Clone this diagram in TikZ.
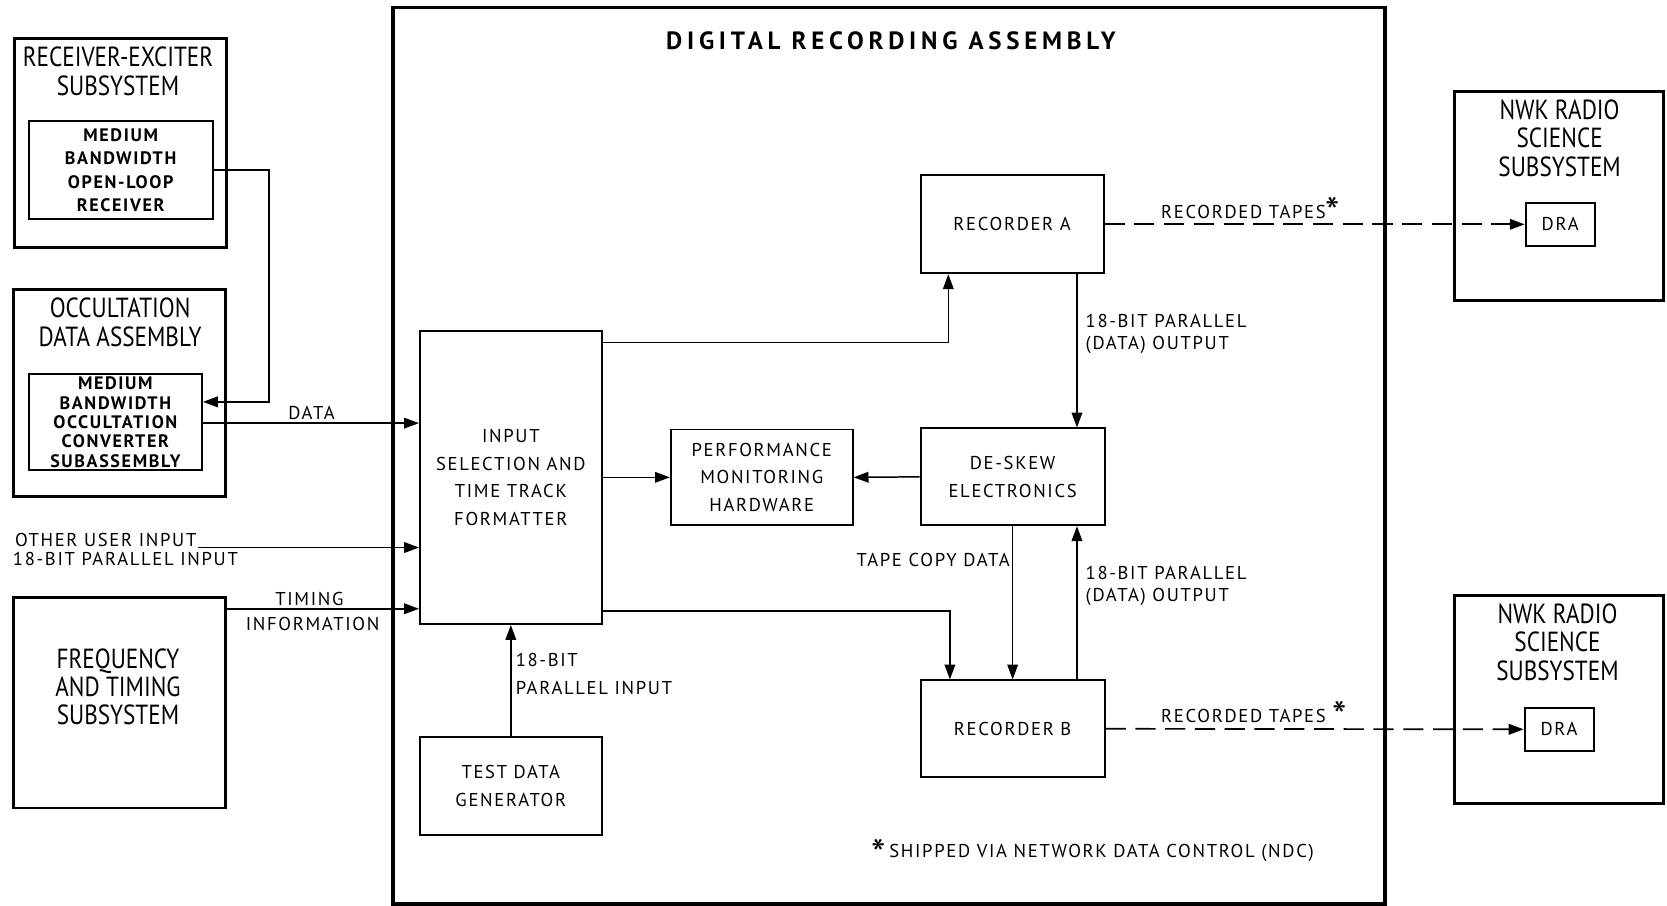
\documentclass[tikz,border=0pt]{standalone}
\usepackage{fontspec}
\setmainfont{PT Sans}
\newfontfamily\tallfont[FakeStretch=0.84]{PT Sans}
\newfontfamily\lblfont[LetterSpace=9]{PT Sans}
\newfontfamily\headfont[LetterSpace=19]{PT Sans}
\newcommand*{\footstar}{\raisebox{-7pt}{\scalebox{1.6}{\fontsize{24}{24}\selectfont *}}}
\usetikzlibrary{arrows.meta}
\begin{document}
\begin{tikzpicture}[x=1pt,y=-1pt,
  outerbox/.style={draw, line width=2.8pt, inner sep=0pt},
  heavybox/.style={draw, line width=3.6pt, inner sep=0pt},
  blockbox/.style={draw, line width=1.8pt, inner sep=0pt, align=center,
    font=\lblfont\fontsize{17.5}{26}\selectfont},
  innerbox/.style={draw, line width=1.8pt, inner sep=0pt, align=center,
    font=\lblfont\bfseries\fontsize{17}{22}\selectfont},
  titletxt/.style={align=center, inner sep=0pt, font=\tallfont\fontsize{26}{27}\selectfont},
  lbl/.style={inner sep=0pt, align=left, font=\lblfont\fontsize{17.5}{21}\selectfont},
  conn/.style={line width=1.4pt, -{Triangle[length=14pt,width=10pt]}},
  tape/.style={line width=1.6pt, dash pattern=on 19pt off 9pt, -{Triangle[length=14pt,width=10pt]}}
]
\useasboundingbox (0,0) rectangle (1568,852);

% digital recording assembly frame
\node[heavybox, minimum width=933pt, minimum height=843pt] (dra) at (836.5,428.5) {};
\node[inner sep=0pt, font=\headfont\bfseries\fontsize{23.5}{23.5}\selectfont] (dratitle) at (838,38) {DIGITAL RECORDING ASSEMBLY};

% receiver-exciter subsystem
\node[outerbox, minimum width=199pt, minimum height=197pt] (rex) at (113.5,134.5) {};
\node[titletxt] (rextitle) at (111,67) {RECEIVER-EXCITER\\SUBSYSTEM};
\node[innerbox, minimum width=173pt, minimum height=92pt] (mbolr) at (113.5,160)
  {MEDIUM\\BANDWIDTH\\OPEN-LOOP\\RECEIVER};

% occultation data assembly
\node[outerbox, minimum width=199pt, minimum height=195pt] (oda) at (112.5,369.5) {};
\node[titletxt] (odatitle) at (113,303) {OCCULTATION\\DATA ASSEMBLY};
\node[innerbox, minimum width=163pt, minimum height=90pt, font=\lblfont\bfseries\fontsize{17}{18.2}\selectfont]
  (mboccs) at (108.5,397) {MEDIUM\\BANDWIDTH\\OCCULTATION\\CONVERTER\\SUBASSEMBLY};

% frequency and timing subsystem
\node[outerbox, minimum width=199pt, minimum height=198pt] (fts) at (112.5,661) {};
\node[titletxt, font=\tallfont\fontsize{26}{26.5}\selectfont] (ftstitle) at (111,646) {FREQUENCY\\AND TIMING\\SUBSYSTEM};

% blocks inside the assembly
\node[blockbox, minimum width=171pt, minimum height=276pt] (isf) at (480.5,449)
  {INPUT\\SELECTION AND\\TIME TRACK\\FORMATTER};
\node[blockbox, minimum width=171pt, minimum height=90pt] (pmh) at (716.5,449)
  {PERFORMANCE\\MONITORING\\HARDWARE};
\node[blockbox, minimum width=173pt, minimum height=91pt] (dse) at (952.5,448.5)
  {DE-SKEW\\ELECTRONICS};
\node[blockbox, minimum width=172pt, minimum height=92pt] (reca) at (952,211) {RECORDER A};
\node[blockbox, minimum width=173pt, minimum height=91pt] (recb) at (952.5,685.5) {RECORDER B};
\node[blockbox, minimum width=171pt, minimum height=92pt] (tdg) at (480.5,739)
  {TEST DATA\\GENERATOR};

% radio science subsystems
\node[outerbox, minimum width=197pt, minimum height=197pt] (nwka) at (1466.5,184.5) {};
\node[titletxt] (nwkatitle) at (1467,130) {NWK RADIO\\SCIENCE\\SUBSYSTEM};
\node[blockbox, minimum width=65pt, minimum height=40pt] (drxa) at (1467.5,211) {DRA};
\node[outerbox, minimum width=197pt, minimum height=196pt] (nwkb) at (1466.5,658) {};
\node[titletxt] (nwkbtitle) at (1465,604) {NWK RADIO\\SCIENCE\\SUBSYSTEM};
\node[blockbox, minimum width=65pt, minimum height=40pt] (drxb) at (1466.5,686) {DRA};

% signal paths
\draw[conn] (mbolr.east) -- ++(52pt,0) |- ([yshift=19pt]mboccs.east);
\draw[conn] ([yshift=-1pt]mboccs.east) -- ([yshift=-1pt]mboccs.east -| isf.west);
\node[lbl] (datalbl) at (293,388) {DATA};

\coordinate (userin) at (186,515);
\draw[conn] (userin) -- (userin -| isf.west);
\node[lbl, anchor=west] (userlbl) at (14,508) {OTHER USER INPUT};
\node[lbl, anchor=west] (userlblb) at (12,526) {18-BIT PARALLEL INPUT};

\draw[conn] ([yshift=-12pt]fts.north east) -- ([yshift=-12pt]fts.north east -| isf.west);
\node[lbl] (timlbl) at (291,563) {TIMING};
\node[lbl] (timlblb) at (294,587) {INFORMATION};

\draw[conn] ([yshift=-12pt]isf.north east) -| ([xshift=-60pt]reca.south);
\draw[conn] ([yshift=13pt]isf.south east) -| ([xshift=-59pt]recb.north);
\draw[conn] (isf.east) -- (pmh.west);
\draw[conn] (dse.west) -- (pmh.east);

\draw[conn] ([xshift=61pt]reca.south) -- ([xshift=61pt]reca.south |- dse.north);
\node[lbl, anchor=west] (outlbla) at (1021,314) {18-BIT PARALLEL\\(DATA) OUTPUT};

\draw[conn] (dse.south) -- (recb.north);
\node[lbl, anchor=east] (copylbl) at (950,527) {TAPE COPY DATA};

\draw[conn] ([xshift=60.5pt]recb.north) -- ([xshift=60.5pt]recb.north |- dse.south);
\node[lbl, anchor=west] (outlblb) at (1021,551) {18-BIT PARALLEL\\(DATA) OUTPUT};

\draw[conn] (tdg.north) -- (isf.south);
\node[lbl, anchor=west, font=\lblfont\fontsize{17.5}{26}\selectfont] (testlbl) at (485,634) {18-BIT\\PARALLEL INPUT};

\draw[tape] (reca.east) -- (drxa.west);
\node[lbl, anchor=west] (tapelbla) at (1092,199) {RECORDED TAPES\footstar};
\draw[tape] (recb.east) -- (drxb.west);
\node[lbl, anchor=west] (tapelblb) at (1092,673) {RECORDED TAPES\hspace{6pt}\footstar};

\node[lbl, anchor=west] (note) at (820,803) {\raisebox{-3pt}{\footstar}\,SHIPPED VIA NETWORK DATA CONTROL (NDC)};
\end{tikzpicture}
\end{document}
